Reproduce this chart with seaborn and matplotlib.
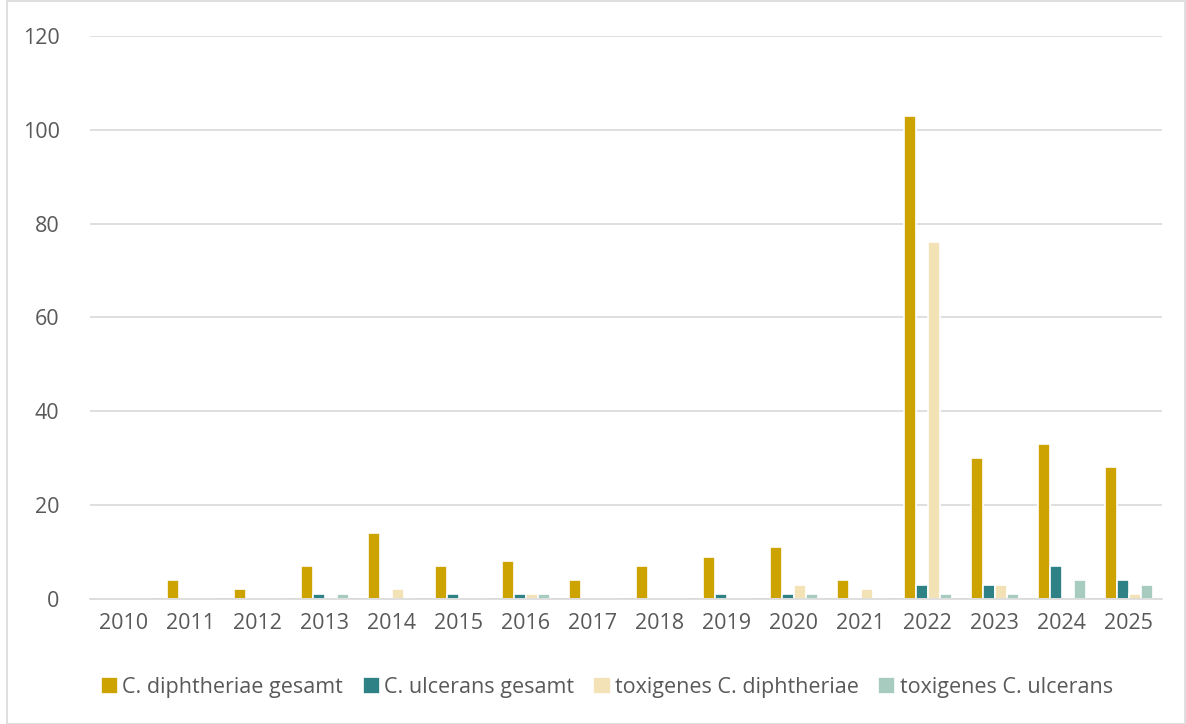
import matplotlib
matplotlib.use("Agg")
import matplotlib.pyplot as plt
import seaborn as sns
import pandas as pd
from matplotlib.patches import Rectangle

years = [str(y) for y in range(2010, 2026)]
diph_total = [0, 4, 2, 7, 14, 7, 8, 4, 7, 9, 11, 4, 103, 30, 33, 28]
ulc_total = [0, 0, 0, 1, 0, 1, 1, 0, 0, 1, 1, 0, 3, 3, 7, 4]
tox_diph = [0, 0, 0, 0, 2, 0, 1, 0, 0, 0, 3, 2, 76, 3, 0, 1]
tox_ulc = [0, 0, 0, 1, 0, 0, 1, 0, 0, 0, 1, 0, 1, 1, 4, 3]

series = ["C. diphtheriae gesamt", "C. ulcerans gesamt",
          "toxigenes C. diphtheriae", "toxigenes C. ulcerans"]
colors = ["#CCA300", "#2E8285", "#F2E2B6", "#A8CBC0"]

df = pd.DataFrame({
    "Jahr": years * 4,
    "Serie": [s for s in series for _ in years],
    "Wert": diph_total + ulc_total + tox_diph + tox_ulc,
})

sns.set_theme(style="white")
plt.rcParams["font.family"] = ["Open Sans", "DejaVu Sans"]

fig = plt.figure(figsize=(11.86, 7.24), dpi=100)
ax = fig.add_axes([0.076, 0.173, 0.904, 0.777])

sns.barplot(data=df, x="Jahr", y="Wert", hue="Serie", palette=colors,
            saturation=1, width=0.72, edgecolor="white", linewidth=1.2, ax=ax)

ax.set_ylim(0, 120)
ax.set_yticks(range(0, 121, 20))
ax.set_xlim(-0.5, len(years) - 0.5)
ax.yaxis.grid(True, color="#d9d9d9", linewidth=1.2)
ax.set_axisbelow(True)
for s in ["top", "right", "left"]:
    ax.spines[s].set_visible(False)
ax.spines["bottom"].set_color("#d9d9d9")
ax.spines["bottom"].set_linewidth(1.2)
ax.tick_params(axis="both", length=0, labelsize=15.5, colors="#595959", pad=10)
ax.tick_params(axis="y", pad=22)
ax.set_xlabel("")
ax.set_ylabel("")

ax.legend(loc="upper center", bbox_to_anchor=(0.482, -0.105), ncol=4,
          frameon=False, fontsize=15.5, handlelength=0.8, handleheight=0.8,
          handletextpad=0.2, columnspacing=0.9, labelcolor="#595959")

fig.patches.append(Rectangle((0.006, 0.0), 0.993, 0.998, transform=fig.transFigure,
                             fill=False, edgecolor="#d9d9d9", linewidth=1.2))

fig.savefig("out.png", dpi=100)
